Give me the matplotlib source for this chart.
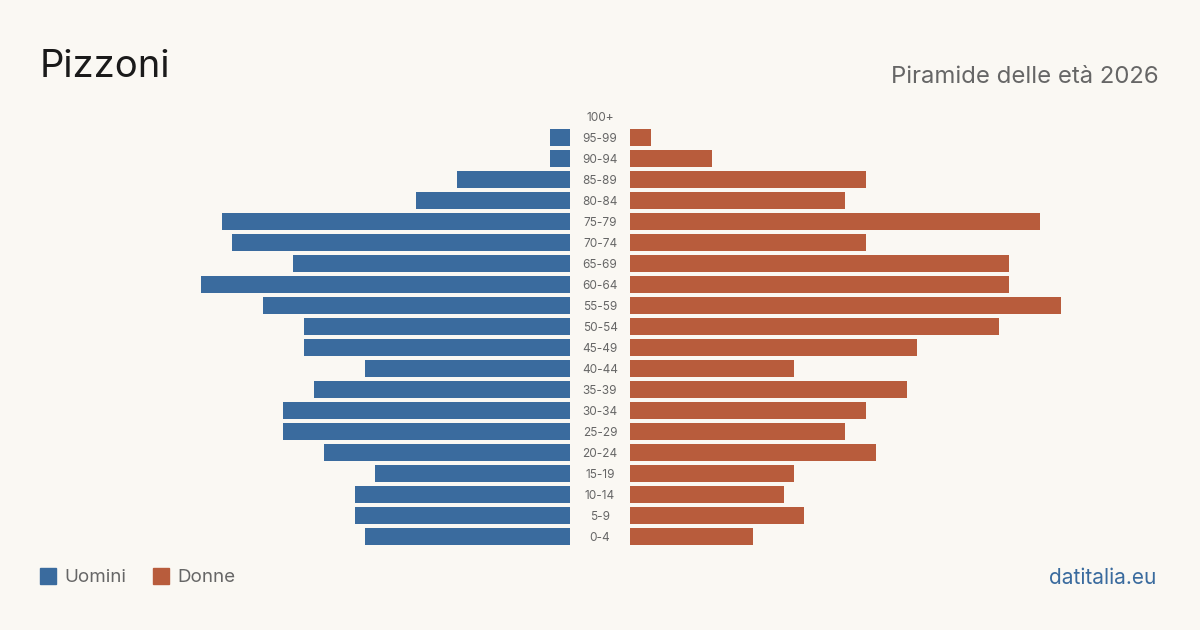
import matplotlib
matplotlib.use("Agg")
import matplotlib.pyplot as plt
from matplotlib.transforms import blended_transform_factory
from matplotlib.patches import Rectangle

ages = ["0-4", "5-9", "10-14", "15-19", "20-24", "25-29", "30-34", "35-39", "40-44",
        "45-49", "50-54", "55-59", "60-64", "65-69", "70-74", "75-79", "80-84",
        "85-89", "90-94", "95-99", "100+"]
men = [20, 21, 21, 19, 24, 28, 28, 25, 20, 26, 26, 30, 36, 27, 33, 34, 15, 11, 2, 2, 0]
women = [12, 17, 15, 16, 24, 21, 23, 27, 16, 28, 36, 42, 37, 37, 23, 40, 21, 23, 8, 2, 0]

BG = "#faf8f3"
BLUE = "#3a6b9e"
ORANGE = "#b85c3c"
FONT = "Inter"

W, H = 1200, 630
fig = plt.figure(figsize=(12, 6.3), dpi=100, facecolor=BG)

top_px, bot_px = 106, 547
ax_b = (H - bot_px) / H
ax_h = (bot_px - top_px) / H
units = 530 / 10.25

axL = fig.add_axes([40 / W, ax_b, 530 / W, ax_h])
axR = fig.add_axes([630 / W, ax_b, 530 / W, ax_h])
ypos = list(range(len(ages)))
for ax, vals, col in ((axL, men, BLUE), (axR, women, ORANGE)):
    ax.barh(ypos, vals, height=0.8, color=col)
    ax.set_ylim(-0.5, len(ages) - 0.5)
    ax.axis("off")
    ax.set_facecolor("none")
axL.set_xlim(units, 0)
axR.set_xlim(0, units)

tr = blended_transform_factory(fig.transFigure, axL.transData)
for i, a in enumerate(ages):
    fig.text(600 / W, i - 0.07, a, transform=tr, ha="center", va="center",
             fontsize=8.5, color="#666666", family=FONT)

fig.text(40 / W, 1 - 67 / H, "Pizzoni", fontsize=27.5, color="#1a1a1a",
         family=FONT, va="center", ha="left")
fig.text(1159 / W, 1 - 77 / H, "Piramide delle età 2026", fontsize=17.2,
         color="#666666", family=FONT, va="center", ha="right")

# legend
for x0, col, lab in ((40, BLUE, "Uomini"), (153, ORANGE, "Donne")):
    fig.patches.append(Rectangle((x0 / W, 1 - 584 / H), 16 / W, 16 / H,
                                 transform=fig.transFigure, color=col))
    fig.text((x0 + 24) / W, 1 - 578 / H, lab, fontsize=13.5, color="#666666",
             family=FONT, va="center", ha="left")

fig.text(1156 / W, 1 - 578 / H, "datitalia.eu", fontsize=15, color=BLUE,
         family=FONT, va="center", ha="right")

fig.savefig("out.png", dpi=100, facecolor=BG)
